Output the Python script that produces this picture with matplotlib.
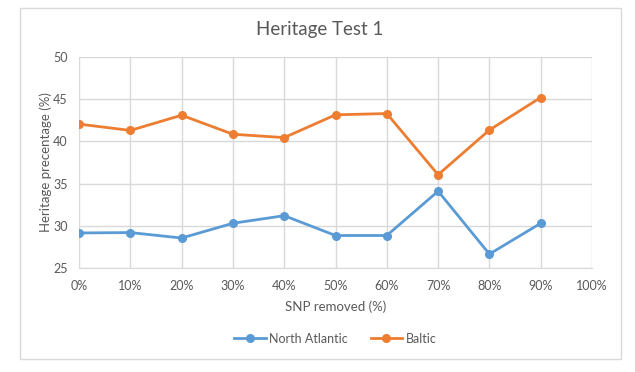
import numpy as np
import matplotlib
matplotlib.use('Agg')
import matplotlib.pyplot as plt
from matplotlib.patches import Rectangle

# ── data ─────────────────────────────────────────────────────────────────────
snp_removed    = [0, 10, 20, 30, 40, 50, 60, 70, 80, 90]
north_atlantic = [29.15, 29.2, 28.55, 30.3, 31.2, 28.85, 28.85, 34.1, 26.65, 30.3]
baltic         = [42.05, 41.3, 43.1, 40.85, 40.45, 43.15, 43.3, 36.05, 41.35, 45.2]

x_ticks = [0, 10, 20, 30, 40, 50, 60, 70, 80, 90, 100]
y_ticks = [25, 30, 35, 40, 45, 50]

BLUE   = '#5B9BD5'
ORANGE = '#ED7D31'
GRID   = '#D9D9D9'
TEXT   = '#595959'

plt.rcParams['font.family'] = ['Lato', 'DejaVu Sans']

fig = plt.figure(figsize=(6.35, 3.72), dpi=100)
ax = fig.add_axes([79 / 635, 1 - 268 / 372, (592 - 79) / 635, (268 - 57) / 372])

# outer chart border
fig.patches.append(Rectangle((20 / 635, 1 - 359 / 372), 601 / 635, 351 / 372,
                             transform=fig.transFigure, fill=False,
                             ec='#D9D9D9', lw=1))

ax.plot(snp_removed, north_atlantic, '-o', color=BLUE, lw=2, ms=5.5,
        label='North Atlantic', zorder=3)
ax.plot(snp_removed, baltic, '-o', color=ORANGE, lw=2, ms=5.5,
        label='Baltic', zorder=3)

ax.set_xlim(0, 100)
ax.set_ylim(25, 50)
ax.set_xticks(x_ticks)
ax.set_xticklabels([f'{v}%' for v in x_ticks])
ax.set_yticks(y_ticks)
ax.grid(True, color=GRID, lw=1)
ax.set_axisbelow(True)
ax.tick_params(axis='x', length=0, labelsize=9, colors=TEXT, pad=9)
ax.tick_params(axis='y', length=0, labelsize=9, colors=TEXT, pad=8)
for sp in ax.spines.values():
    sp.set_visible(False)
ax.spines['bottom'].set_visible(True)
ax.spines['bottom'].set_color(GRID)

ax.set_xlabel('SNP removed (%)', fontsize=9.5, color=TEXT, labelpad=6)
ax.set_ylabel('Heritage precentage (%)', fontsize=9.5, color=TEXT, labelpad=1)
fig.text(320 / 635, 1 - 30 / 372, 'Heritage Test 1', ha='center', va='center',
         fontsize=13.5, color=TEXT)

ax.legend(loc='center', bbox_to_anchor=(0.5, -0.335), ncol=2, frameon=False,
          fontsize=9, labelcolor=TEXT, handlelength=2.5, columnspacing=1.8,
          handletextpad=0.3)

fig.savefig('out.png', dpi=100)
